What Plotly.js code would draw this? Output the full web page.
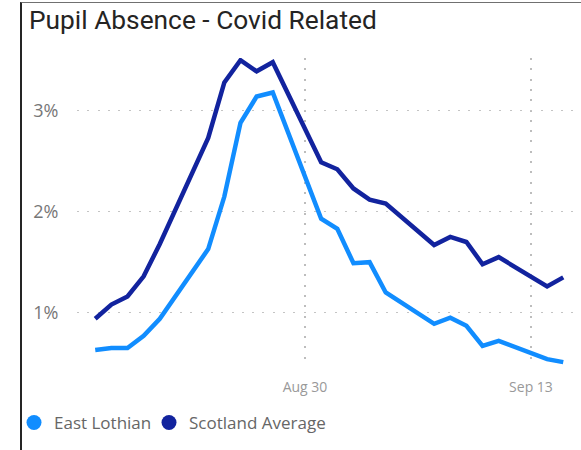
<!DOCTYPE html>
<html>
<head>
<meta charset="utf-8">
<script src="https://cdn.plot.ly/plotly-3.0.1.min.js"></script>
<style>
html,body{margin:0;padding:0;background:#fff;}
#wrap{position:relative;width:581px;height:450px;overflow:hidden;}
#chart{width:581px;height:450px;}
#frame{position:absolute;left:20px;top:2px;width:600px;height:460px;border-left:2px solid #252525;border-top:1px solid #707070;pointer-events:none;}
</style>
</head>
<body>
<div id="wrap"><div id="chart"></div><div id="frame"></div></div>
<script>
// School days (weekdays) in 2020
const dates = [
  '2020-08-17','2020-08-18','2020-08-19','2020-08-20','2020-08-21',
  '2020-08-24','2020-08-25','2020-08-26','2020-08-27','2020-08-28',
  '2020-08-31','2020-09-01','2020-09-02','2020-09-03','2020-09-04',
  '2020-09-07','2020-09-08','2020-09-09','2020-09-10','2020-09-11',
  '2020-09-14','2020-09-15'
];
// Pupil absence, covid related (%)
const eastLothian = [
  0.63, 0.65, 0.65, 0.77, 0.94,
  1.63, 2.15, 2.88, 3.14, 3.18,
  1.93, 1.83, 1.49, 1.50, 1.20,
  0.89, 0.95, 0.87, 0.67, 0.72,
  0.54, 0.51
];
const scotlandAverage = [
  0.94, 1.08, 1.16, 1.36, 1.68,
  2.73, 3.28, 3.50, 3.39, 3.48,
  2.49, 2.42, 2.23, 2.12, 2.08,
  1.67, 1.75, 1.70, 1.48, 1.55,
  1.26, 1.35
];
const seriesNames = ['East Lothian', 'Scotland Average'];
const xTickVals = ['2020-08-30', '2020-09-13'];
const xTickText = ['Aug 30', 'Sep 13'];
const yTickVals = [1, 2, 3];
const yTickText = ['1%', '2%', '3%'];

const colEL = '#118DFF';
const colSC = '#12239E';

const traces = [
  {x: dates, y: eastLothian, name: seriesNames[0], mode: 'lines', showlegend: false,
   line: {color: colEL, width: 4.5}, hoverinfo: 'skip'},
  {x: dates, y: scotlandAverage, name: seriesNames[1], mode: 'lines', showlegend: false,
   line: {color: colSC, width: 4.5}, hoverinfo: 'skip'},
  {x: [null], y: [null], name: seriesNames[0], mode: 'markers', legend: 'legend',
   marker: {color: colEL, size: 15}},
  {x: [null], y: [null], name: seriesNames[1], mode: 'markers', legend: 'legend2',
   marker: {color: colSC, size: 15}}
];

const legendFont = {family: 'Open Sans, sans-serif', size: 17, color: '#666'};

const layout = {
  width: 581, height: 450,
  margin: {l: 77, r: 0, t: 58, b: 84},
  paper_bgcolor: '#fff', plot_bgcolor: '#fff',
  title: {text: 'Pupil Absence - Covid Related', xref: 'container', yref: 'container',
          x: 29/581, xanchor: 'left', y: 1 - 20/450, yanchor: 'middle',
          font: {family: 'Roboto, sans-serif', size: 26.3, color: '#252423'}},
  xaxis: {type: 'date', range: ['2020-08-15 20:53', '2020-09-16 02:24'],
          tickmode: 'array', tickvals: xTickVals, ticktext: xTickText,
          showgrid: true, gridcolor: '#bdbdbd', gridwidth: 1.6, griddash: '2px,8.3px',
          zeroline: false, showline: false,
          ticks: 'outside', ticklen: 8, tickcolor: 'rgba(0,0,0,0)',
          tickfont: {family: 'Open Sans, sans-serif', size: 14, color: '#999'}},
  yaxis: {range: [0.472, 3.522], tickmode: 'array', tickvals: yTickVals, ticktext: yTickText,
          showgrid: true, gridcolor: '#c4c4c4', gridwidth: 1.5, griddash: '2px,8.3px',
          zeroline: false, showline: false,
          ticks: 'outside', ticklen: 14, tickcolor: 'rgba(0,0,0,0)',
          tickfont: {family: 'Open Sans, sans-serif', size: 18, color: '#777'}},
  legend: {orientation: 'h', xref: 'container', yref: 'container',
           x: 14/581, xanchor: 'left', y: 1 - 423/450, yanchor: 'middle',
           font: legendFont, bgcolor: 'rgba(0,0,0,0)'},
  legend2: {orientation: 'h', xref: 'container', yref: 'container',
           x: 149/581, xanchor: 'left', y: 1 - 423/450, yanchor: 'middle',
           font: legendFont, bgcolor: 'rgba(0,0,0,0)'},
  showlegend: true
};

Plotly.newPlot('chart', traces, layout, {displayModeBar: false, staticPlot: true});
</script>
</body>
</html>
